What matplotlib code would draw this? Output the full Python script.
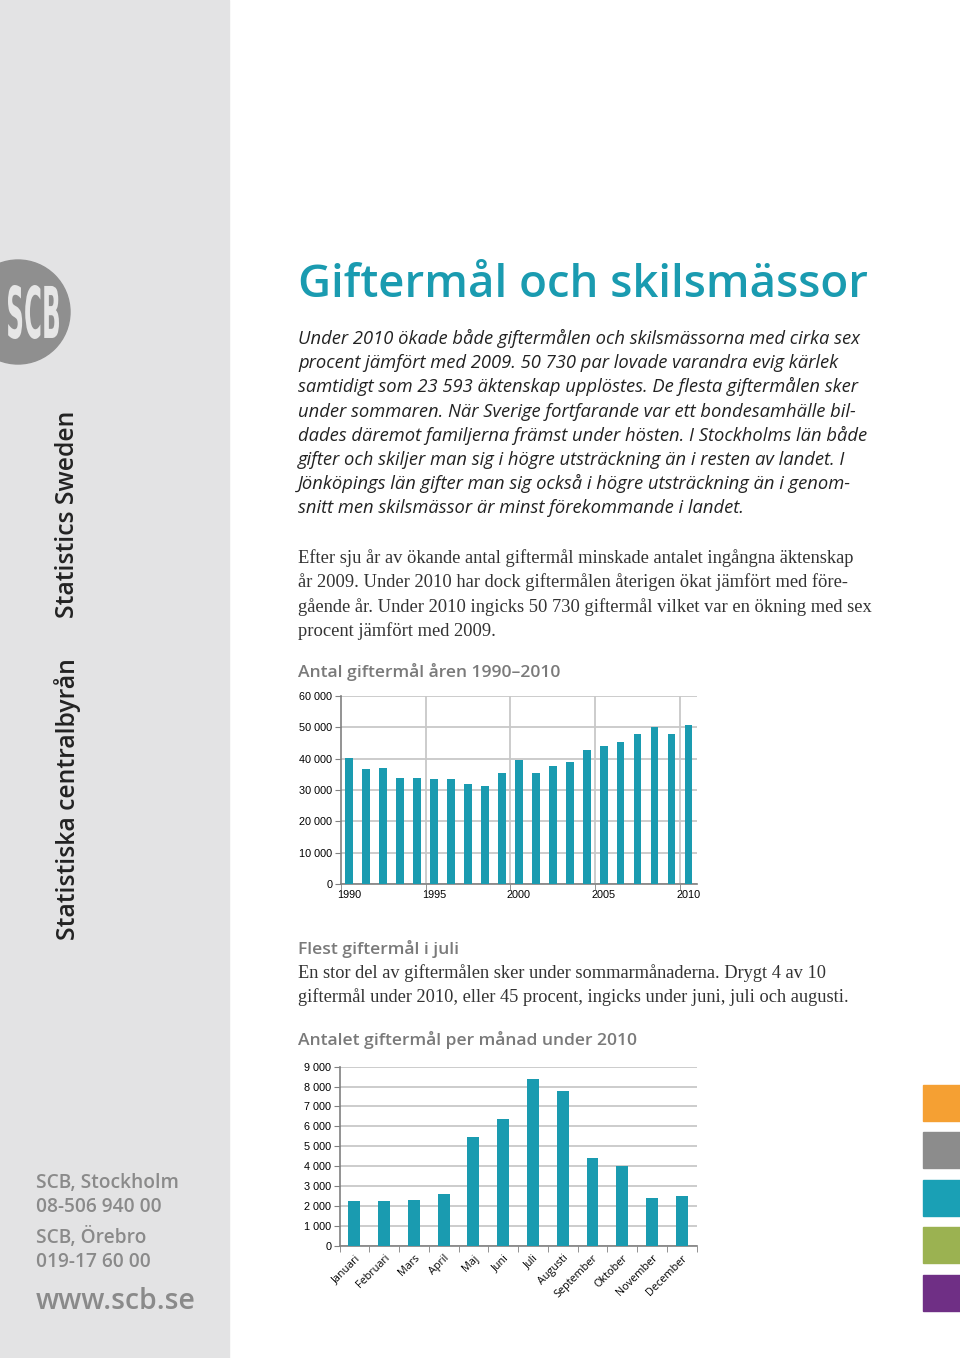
import matplotlib
matplotlib.use("Agg")
import matplotlib.pyplot as plt
from matplotlib.patches import Rectangle, Circle, PathPatch
from matplotlib.textpath import TextPath
from matplotlib.font_manager import FontProperties
from matplotlib.transforms import Affine2D
from matplotlib.ticker import FuncFormatter, FixedLocator

# --- data ---
years = list(range(1990, 2011))
marriages = [40100, 36600, 37000, 33900, 33900, 33400, 33400, 32000, 31300, 35500,
             39600, 35500, 37800, 38900, 42800, 44100, 45400, 47800, 50100, 47800, 50600]
year_labels = ["1990", "1995", "2000", "2005", "2010"]

months = ["Januari", "Februari", "Mars", "April", "Maj", "Juni", "Juli",
          "Augusti", "September", "Oktober", "November", "December"]
monthly = [2250, 2250, 2300, 2580, 5460, 6350, 8400, 7760, 4390, 3990, 2400, 2500]

intro_lines = [
    "Under 2010 ökade både giftermålen och skilsmässorna med cirka sex",
    "procent jämfört med 2009. 50 730 par lovade varandra evig kärlek",
    "samtidigt som 23 593 äktenskap upplöstes. De flesta giftermålen sker",
    "under sommaren. När Sverige fortfarande var ett bondesamhälle bil-",
    "dades däremot familjerna främst under hösten. I Stockholms län både",
    "gifter och skiljer man sig i högre utsträckning än i resten av landet. I",
    "Jönköpings län gifter man sig också i högre utsträckning än i genom-",
    "snitt men skilsmässor är minst förekommande i landet.",
]
body_lines = [
    "Efter sju år av ökande antal giftermål minskade antalet ingångna äktenskap",
    "år 2009. Under 2010 har dock giftermålen återigen ökat jämfört med före-",
    "gående år. Under 2010 ingicks 50 730 giftermål vilket var en ökning med sex",
    "procent jämfört med 2009.",
]
juli_lines = [
    "En stor del av giftermålen sker under sommarmånaderna. Drygt 4 av 10",
    "giftermål under 2010, eller 45 procent, ingicks under juni, juli och augusti.",
]

TEAL = "#1a9bb0"
GRID = "#c8c8c8"
AXIS = "#808080"
HEAD = "#7a7a7a"
W, H = 960, 1358

fig = plt.figure(figsize=(W / 100, H / 100), dpi=100)

# background axes in pixel units (y down)
bg = fig.add_axes([0, 0, 1, 1])
bg.set_xlim(0, W)
bg.set_ylim(H, 0)
bg.axis("off")

# sidebar
bg.add_patch(Rectangle((0, 0), 229, H, color="#e3e3e4", zorder=0))
bg.add_patch(Circle((18, 312), 52, color="#8f8f8f", zorder=1))

# condensed SCB logo: squeeze a text path into the circle
tp = TextPath((0, 0), "SCB", size=10, prop=FontProperties(family="DejaVu Sans", weight="bold"))
ext = tp.get_extents()
sx = 51 / ext.width
sy = 54 / ext.height
logo = Affine2D().translate(-ext.x0, -ext.y0).scale(sx, -sy).translate(8, 339)
bg.add_patch(PathPatch(logo.transform_path(tp), color="#e6e6e6", lw=0, zorder=2))

side = dict(family="Open Sans", fontweight="semibold", color="#222222",
            rotation=90, fontsize=17.8, va="bottom", ha="center")
bg.text(68, 940, "Statistiska centralbyrån", **side)
bg.text(68, 618, "Statistics Sweden", **side)

contact = dict(family="Open Sans", fontweight="semibold", color="#8a8a8a", va="baseline")
bg.text(36, 1188, "SCB, Stockholm", fontsize=13.8, **contact)
bg.text(36, 1212, "08-506 940 00", fontsize=13.8, **contact)
bg.text(36, 1243, "SCB, Örebro", fontsize=13.8, **contact)
bg.text(36, 1267, "019-17 60 00", fontsize=13.8, **contact)
bg.text(36, 1309, "www.scb.se", fontsize=20.4, **contact)

# colour squares on the right
for y0, c in zip([1085, 1132, 1180, 1227, 1275],
                 ["#f5a033", "#8c8c8c", "#1aa0b5", "#9bb251", "#6f2f85"]):
    bg.add_patch(Rectangle((923, y0), 40, 36, color=c, zorder=1))

# title and text
bg.text(298, 297, "Giftermål och skilsmässor", family="Open Sans", fontweight="semibold",
        fontsize=32.9, color=TEAL, va="baseline")

for i, line in enumerate(intro_lines):
    bg.text(298, 344 + i * 24.2, line, family="Open Sans", style="italic",
            fontsize=13.25, color="#222222", va="baseline")

for i, line in enumerate(body_lines):
    bg.text(298, 563 + i * 24.3, line, family="Liberation Serif",
            fontsize=13.3, color="#333333", va="baseline")

head = dict(family="Open Sans", fontweight="semibold", fontsize=12.6, color=HEAD, va="baseline")
bg.text(298, 677, "Antal giftermål åren 1990–2010", **head)
bg.text(298, 954, "Flest giftermål i juli", **head)
for i, line in enumerate(juli_lines):
    bg.text(298, 978 + i * 24.5, line, family="Liberation Serif",
            fontsize=13.25, color="#333333", va="baseline")
bg.text(298, 1045, "Antalet giftermål per månad under 2010", **head)

fmt = FuncFormatter(lambda v, p: f"{int(v):,}".replace(",", " "))


def style_axes(ax):
    for s in ["top", "right"]:
        ax.spines[s].set_visible(False)
    for s in ["left", "bottom"]:
        ax.spines[s].set_color(AXIS)
        ax.spines[s].set_linewidth(1.2)
    ax.yaxis.grid(True, color=GRID, linewidth=1.3)
    ax.set_axisbelow(True)
    ax.yaxis.set_major_formatter(fmt)
    ax.tick_params(axis="y", length=4, color=AXIS, labelsize=7.8, pad=2)
    for lab in ax.get_yticklabels():
        lab.set_family("Liberation Sans")
    ax.set_facecolor("none")


# chart 1: yearly marriages
ax1 = fig.add_axes([340.7 / W, 1 - 884 / H, (697 - 340.7) / W, (884 - 696) / H])
x1 = list(range(len(years)))
ax1.bar(x1, marriages, width=0.45, color=TEAL, zorder=3)
ax1.set_xlim(-0.5, len(years) - 0.5)
ax1.set_ylim(0, 60000)
ax1.set_yticks(range(0, 60001, 10000))
style_axes(ax1)
for xv in [4.5, 9.5, 14.5, 19.5]:
    ax1.axvline(xv, color=GRID, linewidth=1.3, zorder=1)
ax1.set_xticks([years.index(int(y)) for y in year_labels])
ax1.set_xticklabels(year_labels, family="Liberation Sans", fontsize=7.8)
ax1.xaxis.set_minor_locator(FixedLocator([-0.5, 4.5, 9.5, 14.5, 19.5]))
ax1.tick_params(axis="x", which="major", length=0, pad=4)
ax1.tick_params(axis="x", which="minor", length=4, color=AXIS)

# chart 2: monthly marriages 2010
ax2 = fig.add_axes([339.5 / W, 1 - 1245.7 / H, (696.7 - 339.5) / W, (1245.7 - 1066.7) / H])
x2 = list(range(len(months)))
ax2.bar(x2, monthly, width=0.4, color=TEAL, zorder=3)
ax2.set_xlim(-0.5, len(months) - 0.5)
ax2.set_ylim(0, 9000)
ax2.set_yticks(range(0, 9001, 1000))
style_axes(ax2)
ax2.set_xticks(x2)
ax2.set_xticklabels(months, rotation=45, ha="right", rotation_mode="anchor",
                    family="Open Sans", fontsize=7.8)
ax2.xaxis.set_minor_locator(FixedLocator([i - 0.5 for i in range(len(months) + 1)]))
ax2.tick_params(axis="x", which="major", length=0, pad=5)
ax2.tick_params(axis="x", which="minor", length=4, color=AXIS)

fig.savefig("out.png", dpi=100)
